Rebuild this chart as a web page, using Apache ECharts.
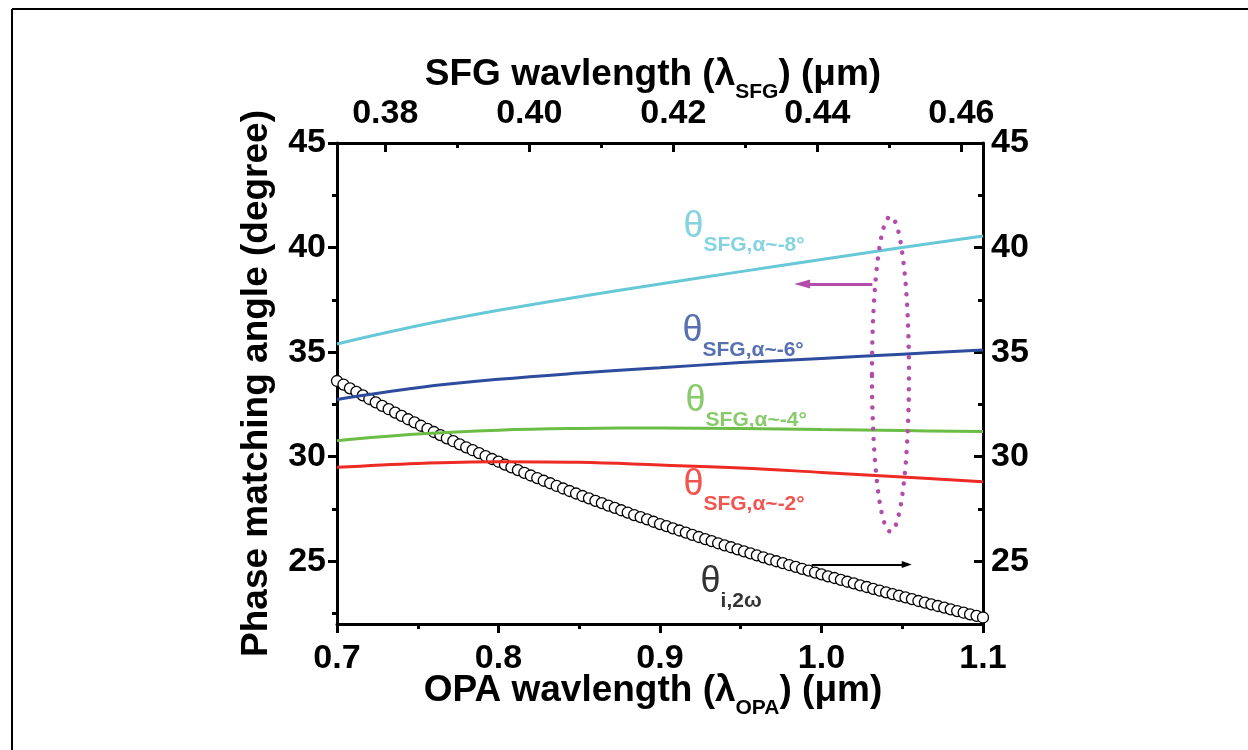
<!DOCTYPE html>
<html>
<head>
<meta charset="utf-8">
<script src="https://cdn.jsdelivr.net/npm/echarts@6/dist/echarts.min.js"></script>
<style>
  html, body { margin: 0; padding: 0; background: #ffffff; }
  #chart { width: 1248px; height: 750px; }
</style>
</head>
<body>
<div id="chart"></div>
<script>
// ---------------- data ----------------
// OPA wavelength grid for the smooth SFG curves (µm)
const lambdaCurve = [0.70, 0.75, 0.80, 0.85, 0.90, 0.95, 1.00, 1.05, 1.10];
// phase-matching angles (degree)
const thetaSfg8 = [35.39, 36.26, 37.00, 37.65, 38.26, 38.85, 39.43, 40.00, 40.55];
const thetaSfg6 = [32.74, 33.30, 33.70, 34.00, 34.25, 34.50, 34.70, 34.90, 35.10];
const thetaSfg4 = [30.76, 31.08, 31.27, 31.35, 31.37, 31.35, 31.30, 31.25, 31.20];
const thetaSfg2 = [29.49, 29.68, 29.76, 29.73, 29.60, 29.46, 29.25, 29.03, 28.80];

// OPA wavelengths of the open-circle curve (µm)
const lambdaCircles = [
  0.700,0.704,0.708,0.712,0.716,0.720,0.724,0.728,0.732,0.736,
  0.740,0.744,0.748,0.752,0.756,0.760,0.764,0.768,0.772,0.776,
  0.780,0.784,0.788,0.792,0.796,0.800,0.804,0.808,0.812,0.816,
  0.820,0.824,0.828,0.832,0.836,0.840,0.844,0.848,0.852,0.856,
  0.860,0.864,0.868,0.872,0.876,0.880,0.884,0.888,0.892,0.896,
  0.900,0.904,0.908,0.912,0.916,0.920,0.924,0.928,0.932,0.936,
  0.940,0.944,0.948,0.952,0.956,0.960,0.964,0.968,0.972,0.976,
  0.980,0.984,0.988,0.992,0.996,1.000,1.004,1.008,1.012,1.016,
  1.020,1.024,1.028,1.032,1.036,1.040,1.044,1.048,1.052,1.056,
  1.060,1.064,1.068,1.072,1.076,1.080,1.084,1.088,1.092,1.096,
  1.100
];
// theta_i,2w (degree, right axis)
const thetaI2w = [
  33.62,33.45,33.27,33.10,32.93,32.76,32.60,32.43,32.27,32.11,
  31.95,31.79,31.64,31.48,31.33,31.18,31.03,30.88,30.74,30.59,
  30.45,30.31,30.17,30.03,29.89,29.76,29.62,29.49,29.36,29.23,
  29.10,28.98,28.85,28.73,28.60,28.48,28.36,28.24,28.12,28.01,
  27.89,27.78,27.66,27.55,27.44,27.33,27.21,27.11,27.00,26.89,
  26.78,26.68,26.57,26.47,26.37,26.26,26.16,26.06,25.96,25.86,
  25.76,25.67,25.57,25.47,25.38,25.28,25.19,25.09,25.00,24.91,
  24.82,24.73,24.64,24.55,24.46,24.37,24.28,24.20,24.11,24.02,
  23.94,23.85,23.77,23.68,23.60,23.51,23.43,23.35,23.27,23.19,
  23.10,23.02,22.94,22.86,22.78,22.70,22.62,22.54,22.46,22.39,
  22.31
];

// tick values
const opaMajorTicks = [0.7, 0.8, 0.9, 1.0, 1.1];
const opaMinorTicks = [0.75, 0.85, 0.95, 1.05];
const sfgMajorTicks = [0.38, 0.40, 0.42, 0.44, 0.46];
const sfgMinorTicks = [0.39, 0.41, 0.43, 0.45];
const angleMajorTicks = [25, 30, 35, 40, 45];
const angleMinorTicks = [22.5, 27.5, 32.5, 37.5, 42.5];

// axis ranges
const opaRange = [0.7, 1.1];
const sfgRange = [0.3733, 0.4630];
const angleRange = [22, 45];

// annotation anchors in data units [lambda_OPA, angle]
const labelSfg8 = [0.9142, 40.62];
const labelSfg6 = [0.9136, 35.62];
const labelSfg4 = [0.9155, 32.28];
const labelSfg2 = [0.9142, 28.27];
const labelI2w = [0.9248, 23.62];
const arrowLeft = [[1.0315, 38.26], [0.988, 38.26]];
const arrowRight = [[0.9939, 24.85], [1.0528, 24.85]];
const ellipseMark = [1.0427, 33.95, 0.01146, 7.53]; // centre x, centre y, half-width, half-height

// ---------------- styling ----------------
const FONT = 'Liberation Sans, Arial, sans-serif';
const C_CYAN = '#67C8D8';
const C_BLUE = '#2D4C9E';
const C_GREEN = '#6CBD45';
const C_RED = '#EE2A24';
const C_MAG = '#B34DAA';

const zip = (xs, ys) => xs.map((x, i) => [x, ys[i]]);

const tickLabelStyle = { fontFamily: FONT, fontSize: 34, fontWeight: 'bold', color: '#000' };
const nameStyleBase = {
  fontFamily: FONT, fontSize: 37, fontWeight: 'bold', color: '#000',
  padding: [0, 14, 0, 0],
  rich: {
    m: { fontFamily: FONT, fontSize: 37, fontWeight: 'bold', color: '#000', lineHeight: 40, padding: [0, 0, 12, 0] },
    sub: { fontFamily: FONT, fontSize: 21, fontWeight: 'bold', color: '#000', lineHeight: 22, padding: [26, 0, 4, 0] }
  }
};
const lineAxis = { show: true, onZero: false, lineStyle: { color: '#000', width: 3 } };
const noLine = { show: false, onZero: false };

function annot(pos, sub, color) {
  return {
    value: pos,
    label: { formatter: '{t|θ}{s|' + sub + '}', color: color }
  };
}

const chart = echarts.init(document.getElementById('chart'), null, { renderer: 'canvas' });

const option = {
  animation: false,
  backgroundColor: '#ffffff',
  grid: { left: 337, right: 265, top: 143, bottom: 126, containLabel: false },
  graphic: [
    { type: 'line', shape: { x1: 12, y1: 9, x2: 1248, y2: 9 }, style: { stroke: '#000', lineWidth: 2 }, silent: true },
    { type: 'line', shape: { x1: 12, y1: 9, x2: 12, y2: 750 }, style: { stroke: '#000', lineWidth: 2 }, silent: true }
  ],
  xAxis: [
    { // bottom, majors + labels
      type: 'value', position: 'bottom', min: opaRange[0], max: opaRange[1],
      axisLine: lineAxis,
      axisTick: { show: true, inside: false, length: 9, customValues: opaMajorTicks, lineStyle: { color: '#000', width: 3 } },
      axisLabel: Object.assign({ customValues: opaMajorTicks, margin: 18, formatter: v => v.toFixed(1) }, tickLabelStyle),
      splitLine: { show: false },
      name: '{m|OPA wavlength (λ}{sub|OPA}{m|) (μm)}',
      nameLocation: 'middle', nameGap: 53, nameMoveOverlap: false, nameTextStyle: nameStyleBase
    },
    { // bottom minors
      type: 'value', position: 'bottom', min: opaRange[0], max: opaRange[1],
      axisLine: noLine,
      axisTick: { show: true, inside: false, length: 5, customValues: opaMinorTicks, lineStyle: { color: '#000', width: 3 } },
      axisLabel: { show: false }, splitLine: { show: false }
    },
    { // top SFG axis, majors + labels
      type: 'value', position: 'top', min: sfgRange[0], max: sfgRange[1],
      axisLine: lineAxis,
      axisTick: { show: true, inside: true, length: 9, customValues: sfgMajorTicks, lineStyle: { color: '#000', width: 3 } },
      axisLabel: Object.assign({ customValues: sfgMajorTicks, margin: 12, formatter: v => v.toFixed(2) }, tickLabelStyle),
      splitLine: { show: false },
      name: '{m|SFG wavlength (λ}{sub|SFG}{m|) (μm)}',
      nameLocation: 'middle', nameGap: 42, nameMoveOverlap: false, nameTextStyle: nameStyleBase
    },
    { // top minors
      type: 'value', position: 'top', min: sfgRange[0], max: sfgRange[1],
      axisLine: noLine,
      axisTick: { show: true, inside: true, length: 5, customValues: sfgMinorTicks, lineStyle: { color: '#000', width: 3 } },
      axisLabel: { show: false }, splitLine: { show: false }
    }
  ],
  yAxis: [
    { // left majors + labels
      type: 'value', position: 'left', min: angleRange[0], max: angleRange[1],
      axisLine: lineAxis,
      axisTick: { show: true, inside: false, length: 9, customValues: angleMajorTicks, lineStyle: { color: '#000', width: 3 } },
      axisLabel: Object.assign({ customValues: angleMajorTicks, margin: 11 }, tickLabelStyle),
      splitLine: { show: false },
      name: 'Phase matching angle (degree)',
      nameLocation: 'middle', nameGap: 62, nameMoveOverlap: false,
      nameTextStyle: { fontFamily: FONT, fontSize: 37, fontWeight: 'bold', color: '#000' }
    },
    { // left minors
      type: 'value', position: 'left', min: angleRange[0], max: angleRange[1],
      axisLine: noLine,
      axisTick: { show: true, inside: false, length: 5, customValues: angleMinorTicks, lineStyle: { color: '#000', width: 3 } },
      axisLabel: { show: false }, splitLine: { show: false }
    },
    { // right majors + labels
      type: 'value', position: 'right', min: angleRange[0], max: angleRange[1],
      axisLine: lineAxis,
      axisTick: { show: true, inside: true, length: 9, customValues: angleMajorTicks, lineStyle: { color: '#000', width: 3 } },
      axisLabel: Object.assign({ customValues: angleMajorTicks, margin: 8 }, tickLabelStyle),
      splitLine: { show: false }
    },
    { // right minors
      type: 'value', position: 'right', min: angleRange[0], max: angleRange[1],
      axisLine: noLine,
      axisTick: { show: true, inside: true, length: 5, customValues: angleMinorTicks, lineStyle: { color: '#000', width: 3 } },
      axisLabel: { show: false }, splitLine: { show: false }
    }
  ],
  series: [
    {
      name: 'θi,2ω', type: 'scatter', xAxisIndex: 0, yAxisIndex: 2,
      data: zip(lambdaCircles, thetaI2w),
      symbol: 'circle', symbolSize: 11,
      itemStyle: { color: '#ffffff', borderColor: '#000000', borderWidth: 1.3, opacity: 1 },
      emphasis: { disabled: true }, z: 2,
      markLine: {
        silent: true, animation: false, symbol: ['none', 'triangle'], symbolSize: [7, 10],
        label: { show: false },
        lineStyle: { color: '#000', width: 2, type: 'solid' },
        data: [[{ coord: arrowRight[0] }, { coord: arrowRight[1] }]]
      }
    },
    {
      name: 'θSFG,α~-2°', type: 'line', xAxisIndex: 0, yAxisIndex: 0,
      data: zip(lambdaCurve, thetaSfg2), smooth: 0.4, showSymbol: false, symbol: 'none',
      lineStyle: { color: C_RED, width: 3 }, emphasis: { disabled: true }, z: 3
    },
    {
      name: 'θSFG,α~-4°', type: 'line', xAxisIndex: 0, yAxisIndex: 0,
      data: zip(lambdaCurve, thetaSfg4), smooth: 0.4, showSymbol: false, symbol: 'none',
      lineStyle: { color: C_GREEN, width: 3 }, emphasis: { disabled: true }, z: 3
    },
    {
      name: 'θSFG,α~-6°', type: 'line', xAxisIndex: 0, yAxisIndex: 0,
      data: zip(lambdaCurve, thetaSfg6), smooth: 0.4, showSymbol: false, symbol: 'none',
      lineStyle: { color: C_BLUE, width: 3 }, emphasis: { disabled: true }, z: 3
    },
    {
      name: 'θSFG,α~-8°', type: 'line', xAxisIndex: 0, yAxisIndex: 0,
      data: zip(lambdaCurve, thetaSfg8), smooth: 0.4, showSymbol: false, symbol: 'none',
      lineStyle: { color: C_CYAN, width: 3 }, emphasis: { disabled: true }, z: 3,
      markLine: {
        silent: true, animation: false, symbol: ['none', 'triangle'], symbolSize: [9, 16],
        label: { show: false },
        lineStyle: { color: C_MAG, width: 3, type: 'solid' },
        data: [[{ coord: arrowLeft[0] }, { coord: arrowLeft[1] }]]
      }
    },
    {
      name: 'dotted ellipse', type: 'custom', xAxisIndex: 0, yAxisIndex: 0,
      data: [ellipseMark], silent: true, z: 4,
      renderItem: function (params, api) {
        const c = api.coord([api.value(0), api.value(1)]);
        const s = api.size([api.value(2), api.value(3)]);
        return {
          type: 'ellipse',
          shape: { cx: c[0], cy: c[1], rx: s[0], ry: s[1] },
          style: { fill: 'none', stroke: C_MAG, lineWidth: 4.5, lineDash: [0.01, 10.5], lineCap: 'round' }
        };
      }
    },
    {
      name: 'labels', type: 'scatter', xAxisIndex: 0, yAxisIndex: 0,
      symbolSize: 1, itemStyle: { color: 'rgba(0,0,0,0)' }, silent: true, z: 5,
      emphasis: { disabled: true },
      label: {
        show: true, position: 'right', distance: 0,
        rich: {
          t: { fontFamily: FONT, fontSize: 36, lineHeight: 36, padding: [0, 0, 16, 0] },
          s: { fontFamily: FONT, fontSize: 21, fontWeight: 'bold', lineHeight: 22, padding: [26, 0, 4, 0] }
        }
      },
      data: [
        annot(labelSfg8, 'SFG,α~-8°', C_CYAN),
        annot(labelSfg6, 'SFG,α~-6°', C_BLUE),
        annot(labelSfg4, 'SFG,α~-4°', C_GREEN),
        annot(labelSfg2, 'SFG,α~-2°', C_RED),
        annot(labelI2w, 'i,2ω', '#000')
      ]
    }
  ]
};

chart.setOption(option);
</script>
</body>
</html>
